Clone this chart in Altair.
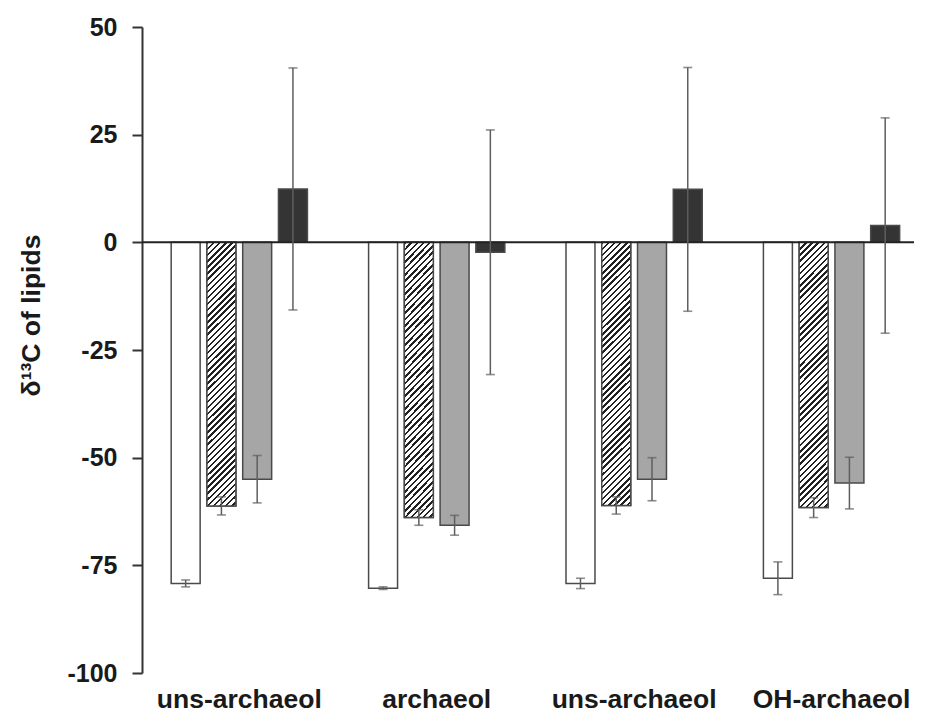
import json
import altair as alt
import pandas as pd

# ---- data ----
groups = ["g1", "g2", "g3", "g4"]
group_labels = ["uns-archaeol", "archaeol", "uns-archaeol", "OH-archaeol"]
series = ["s1", "s2", "s3", "s4"]  # white, hatched, grey, dark

white_vals = [-79.2, -80.3, -79.2, -78.0]
hatch_vals = [-61.2, -63.9, -61.1, -61.6]
gray_vals = [-55.0, -65.7, -55.0, -55.9]
dark_vals = [12.4, -2.3, 12.3, 3.9]

white_err = [0.8, 0.3, 1.2, 3.8]
hatch_err = [2.1, 1.8, 2.0, 2.3]
gray_err = [5.5, 2.3, 5.0, 6.0]
dark_err = [28.1, 28.4, 28.3, 25.0]

y_ticks = [50, 25, 0, -25, -50, -75, -100]

rows = []
for s, vals, errs in zip(series,
                         [white_vals, hatch_vals, gray_vals, dark_vals],
                         [white_err, hatch_err, gray_err, dark_err]):
    for g, v, e in zip(groups, vals, errs):
        rows.append({"group": g, "series": s, "value": v,
                     "lo": v - e, "hi": v + e})
df = pd.DataFrame(rows)

FONT = "Liberation Sans"
STROKE = "#4a4a4a"

# diagonal hatch as a hard-stop linear gradient
n_per = 48
period = 1.0 / n_per
stops = []
for i in range(n_per + 1):
    o = i * period
    if o > 1:
        break
    stops.append({"offset": round(o, 5), "color": "#222222"})
    o2 = min(1.0, o + period * 0.4)
    stops.append({"offset": round(o2, 5), "color": "#222222"})
    stops.append({"offset": round(o2, 5), "color": "#ffffff"})
    o3 = min(1.0, o + period)
    stops.append({"offset": round(o3, 5), "color": "#ffffff"})
hatch_fill = {"gradient": "linear", "x1": 0, "y1": 0,
              "x2": 1.1 * 29 / 265, "y2": 1.1, "stops": stops}

label_expr = f"{json.dumps(group_labels)}[indexof({json.dumps(groups)}, datum.value)]"

x_enc = alt.X("group:N", sort=groups,
              scale=alt.Scale(paddingInner=0.27, paddingOuter=0.0903, align=0.708),
              axis=alt.Axis(title=None, domain=False, ticks=False, labelAngle=0,
                            labelExpr=label_expr, labelFont=FONT, labelFontSize=26.5,
                            labelFontWeight="bold", labelColor="#1a1a1a",
                            labelPadding=34, labelBaseline="alphabetic",
                            labelLimit=0, labelOverlap=False))
xo_enc = alt.XOffset("series:N", sort=series,
                     scale=alt.Scale(paddingInner=0.19, paddingOuter=0.11))
y_scale = alt.Scale(domain=[-100, 50], nice=False)
y_enc = alt.Y("value:Q", scale=y_scale,
              axis=alt.Axis(values=y_ticks, grid=False, domainColor="#333333",
                            domainWidth=2, tickColor="#333333", tickWidth=2,
                            tickSize=10, labelFont=FONT, labelFontSize=25,
                            labelFontWeight="bold", labelColor="#1a1a1a",
                            labelPadding=15, labelExpr="'' + datum.value",
                            title="δ¹³C of lipids", titleFont=FONT,
                            titleFontSize=26.5, titleFontWeight="bold",
                            titleColor="#1a1a1a", titleAngle=270,
                            titleX=-111, titleY=288, titleAlign="center",
                            titleBaseline="middle"))

base = alt.Chart(df)

bars = base.mark_bar(stroke=STROKE, strokeWidth=1.5).encode(
    x=x_enc, xOffset=xo_enc, y=y_enc,
    fill=alt.Fill("series:N", sort=series,
                  scale=alt.Scale(domain=series,
                                  range=["#ffffff", "#ffffff", "#a6a6a6", "#343434"]),
                  legend=None),
)

hatch = base.transform_filter(alt.datum.series == "s2").mark_bar(
    stroke=STROKE, strokeWidth=1.5, fill=hatch_fill
).encode(x=x_enc, xOffset=xo_enc, y=alt.Y("value:Q", scale=y_scale))

zero = alt.Chart(pd.DataFrame({"z": [0]})).mark_rule(
    color="#222222", strokeWidth=2
).encode(y=alt.Y("z:Q", scale=y_scale))

err = base.mark_rule(color="#5e5e5e", strokeWidth=1.5).encode(
    x=x_enc, xOffset=xo_enc,
    y=alt.Y("lo:Q", scale=y_scale), y2="hi:Q")

cap_lo = base.mark_tick(color="#5e5e5e", thickness=1.6, size=9,
                        orient="horizontal").encode(
    x=x_enc, xOffset=xo_enc, y=alt.Y("lo:Q", scale=y_scale))
cap_hi = base.mark_tick(color="#5e5e5e", thickness=1.6, size=9,
                        orient="horizontal").encode(
    x=x_enc, xOffset=xo_enc, y=alt.Y("hi:Q", scale=y_scale))

chart = alt.layer(bars, hatch, zero, err, cap_lo, cap_hi).properties(
    width=772, height=646,
    padding={"left": 134, "top": 19, "right": 0, "bottom": 44},
    autosize=alt.AutoSizeParams(type="none"),
    background="#ffffff",
).configure_view(stroke=None)

chart.save("out.html", embed_options={"renderer": "svg", "actions": False})
